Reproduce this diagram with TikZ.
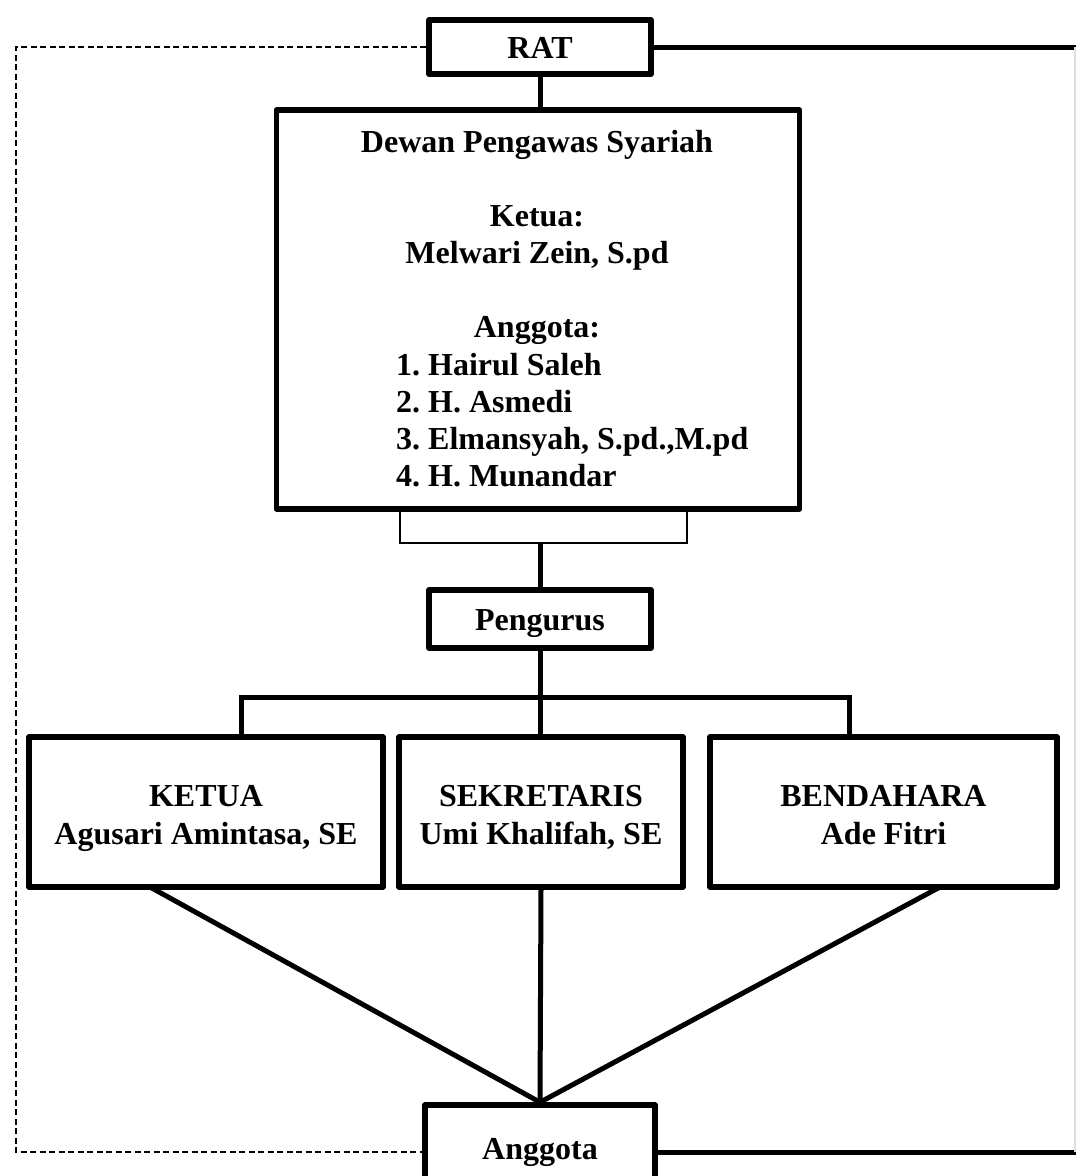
\documentclass[tikz,border=0pt]{standalone}
\usepackage{fontspec}
\setmainfont{Liberation Serif}
\frenchspacing
\begin{document}
\begin{tikzpicture}[x=1pt,y=-1pt,
  box/.style={draw, line width=5.5pt, line join=round, fill=white, inner sep=0pt},
  conn/.style={line width=5pt},
  thinbox/.style={draw, line width=1.5pt, inner sep=0pt},
  dashline/.style={line width=1.5pt, dash pattern=on 6pt off 3.5pt},
  lbl/.style={font=\fontsize{32}{37}\selectfont\bfseries, anchor=base, inner sep=0pt},
  lbll/.style={lbl, anchor=base west}
]
\useasboundingbox (0,0) rectangle (1076,1176);
\clip (0,0) rectangle (1076,1176);

\coordinate (lx) at (16,0);
\coordinate (rx) at (1082,0);
\coordinate (edge) at (1075,0);

% boxes
\node[thinbox, minimum width=287pt, minimum height=34pt] (thin) at (543.5,526) {};
\node[box, minimum width=222pt, minimum height=54pt] (rat) at (540,47) {};
\node[box, minimum width=523pt, minimum height=399pt] (dps) at (538,309.5) {};
\node[box, minimum width=222pt, minimum height=58pt] (pengurus) at (540,619) {};
\node[box, minimum width=354pt, minimum height=150pt] (ketua) at (206,812) {};
\node[box, minimum width=284pt, minimum height=150pt] (sekretaris) at (541,812) {};
\node[box, minimum width=347pt, minimum height=150pt] (bendahara) at (883.5,812) {};
\node[box, minimum width=230pt, minimum height=94pt] (anggota) at (540,1152) {};

% texts
\node[lbl] (tRat) at (540,58) {RAT};
\node[lbl] (t1) at (537,152) {Dewan Pengawas Syariah};
\node[lbl] (t2) at (537,226) {Ketua:};
\node[lbl] (t3) at (537,263) {Melwari Zein, S.pd};
\node[lbl] (t4) at (537,337) {Anggota:};
\node[lbll] (t5) at (396,375) {1. Hairul Saleh};
\node[lbll] (t6) at (396,412) {2. H. Asmedi};
\node[lbll] (t7) at (396,449) {3. Elmansyah, S.pd.,M.pd};
\node[lbll] (t8) at (396,486) {4. H. Munandar};
\node[lbl] (tPeng) at (540,630) {Pengurus};
\node[lbl] (tK1) at (206,806) {KETUA};
\node[lbl] (tK2) at (206,844) {Agusari Amintasa, SE};
\node[lbl] (tS1) at (541,806) {SEKRETARIS};
\node[lbl] (tS2) at (541,844) {Umi Khalifah, SE};
\node[lbl] (tB1) at (883.5,806) {BENDAHARA};
\node[lbl] (tB2) at (883.5,844) {Ade Fitri};
\node[lbl] (tAng) at (540,1159) {Anggota};

% connectors
\coordinate (busl) at (241,697);
\coordinate (busr) at (849,697);
\coordinate (kb) at (150,887);
\coordinate (bb) at (940,887);

\draw[conn] (rat.south) -- (dps.north -| rat.south);
\draw[conn] (pengurus.north |- thin.south) -- (pengurus.north);
\draw[conn] (pengurus.south) -- (pengurus.south |- sekretaris.north);
\draw[conn, line join=miter] (busl |- ketua.north) -- (busl) -- (busr) -- (busr |- bendahara.north);
\draw[conn] (kb) -- (anggota.north);
\draw[conn] (sekretaris.south) -- (anggota.north);
\draw[conn] (bb) -- (anggota.north);
\draw[conn] (rat.east) -- (rat.east -| rx);
\draw[conn] (anggota.east) -- (anggota.east -| rx);
\draw[gray!25, line width=1.5pt] (rat.east -| edge) -- (anggota.east -| edge);
\draw[dashline] (rat.west) -- (rat.west -| lx) -- (anggota.west -| lx) -- (anggota.west);
\end{tikzpicture}
\end{document}
